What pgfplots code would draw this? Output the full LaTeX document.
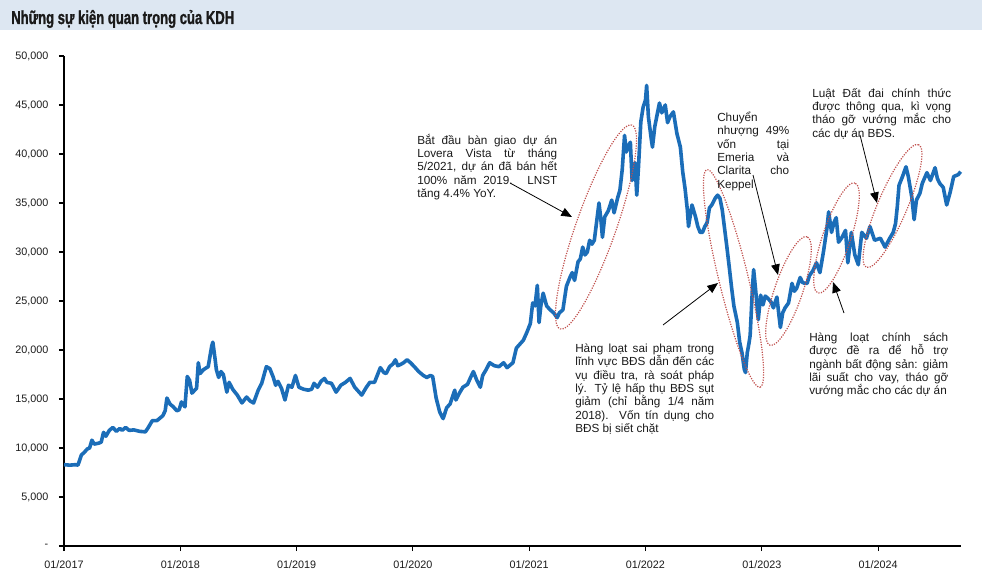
\documentclass[border=0pt]{standalone}
\usepackage{fontspec}
\setmainfont{Liberation Sans}
\newfontfamily\titlefont[FakeStretch=0.70,FakeBold=1.2]{Liberation Sans}
\usepackage{pgfplots}
\pgfplotsset{compat=1.18}
\usetikzlibrary{arrows.meta}
\definecolor{kdh}{HTML}{1B6DB8}
\definecolor{band}{HTML}{DDE7F2}
\definecolor{ell}{HTML}{C0504D}
\definecolor{txt}{HTML}{1A1A1A}
\newcommand{\annfont}{\fontsize{8.8}{10}\selectfont\color{txt}}
\newcommand{\jl}[2]{\makebox[#1][s]{#2}\\}
\begin{document}
\begin{tikzpicture}
\path[use as bounding box] (0,0) rectangle (736.5pt,432pt);
\fill[band] (0,409.5pt) rectangle (736.5pt,432pt);
\begin{axis}[
  at={(48pt,22.5pt)}, anchor=south west,
  scale only axis, width=672.75pt, height=367.5pt,
  xmin=0, xmax=7.713, ymin=0, ymax=50000,
  axis x line*=bottom, axis y line*=left,
  axis line style={black, line width=0.9pt},
  tick align=outside, major tick length=3.75pt,
  tick style={black, line width=0.8pt},
  scaled y ticks=false,
  xtick={0,1,2,3,4,5,6,7},
  xticklabels={01/2017,01/2018,01/2019,01/2020,01/2021,01/2022,01/2023,01/2024},
  ytick={0,5000,10000,15000,20000,25000,30000,35000,40000,45000,50000},
  yticklabels={-,{5,000},{10,000},{15,000},{20,000},{25,000},{30,000},{35,000},{40,000},{45,000},{50,000}},
  ticklabel style={font=\fontsize{8.1}{9}\selectfont, text=txt},
  yticklabel style={xshift=-4.5pt},
  xticklabel style={yshift=-3.75pt},
  clip=false,
]
\addplot[kdh, line width=2.7pt, line join=round] coordinates {
(0.00,8300) (0.05,8250) (0.10,8300) (0.12,8250) (0.15,9300) (0.17,9500) (0.20,9900) (0.22,10000)
(0.24,10800) (0.26,10400) (0.30,10500) (0.32,10600) (0.34,11600) (0.36,11200) (0.39,11800) (0.42,12100)
(0.45,11700) (0.48,12000) (0.50,11800) (0.53,12100) (0.56,11800) (0.60,11850) (0.65,11700) (0.70,11650)
(0.72,12000) (0.76,12800) (0.80,12800) (0.85,13300) (0.87,13800) (0.885,15100) (0.91,14500) (0.94,14200)
(0.97,13800) (0.99,13900) (1.01,14700) (1.04,14200) (1.06,17300) (1.08,16900) (1.10,15600) (1.14,16100)
(1.155,18700) (1.17,17600) (1.20,18000) (1.24,18300) (1.27,20400) (1.28,20800) (1.30,19000) (1.31,18000)
(1.33,17200) (1.35,17800) (1.37,17500) (1.40,15700) (1.42,16700) (1.45,16000) (1.49,15400) (1.53,14600)
(1.57,15200) (1.60,14800) (1.63,14600) (1.67,15900) (1.70,16600) (1.74,18300) (1.77,18100) (1.80,17200)
(1.82,16400) (1.84,16800) (1.87,16100) (1.90,14900) (1.93,16400) (1.96,16200) (1.99,17400) (2.02,16200)
(2.06,16000) (2.10,15900) (2.13,16000) (2.15,16600) (2.18,16200) (2.21,16800) (2.24,17100) (2.26,16700)
(2.30,16600) (2.34,15700) (2.38,16400) (2.42,16700) (2.46,17100) (2.50,16200) (2.53,15800) (2.56,15400)
(2.60,16200) (2.63,16700) (2.67,16700) (2.70,17600) (2.72,18200) (2.75,17700) (2.77,17600) (2.80,18300)
(2.83,18600) (2.85,19000) (2.87,18400) (2.89,18500) (2.92,18700) (2.95,19000) (2.98,18700) (3.02,18200)
(3.05,17800) (3.09,17400) (3.12,17200) (3.15,17400) (3.17,17300) (3.20,15100) (3.23,13700) (3.25,13200)
(3.26,13000) (3.29,14100) (3.32,14500) (3.36,15900) (3.37,14900) (3.40,15600) (3.43,16200) (3.47,16500)
(3.50,17300) (3.52,17800) (3.55,16900) (3.58,16200) (3.60,17400) (3.63,18000) (3.66,18700) (3.70,18400)
(3.74,18300) (3.78,18700) (3.81,18200) (3.84,18500) (3.86,18700) (3.89,20200) (3.92,20600) (3.95,21000)
(3.98,21800) (4.01,22700) (4.03,24800) (4.05,24500) (4.07,26600) (4.085,22800) (4.10,24500) (4.12,25800)
(4.15,24500) (4.18,24100) (4.21,23800) (4.24,23300) (4.26,23800) (4.29,24100) (4.32,26500) (4.35,27400)
(4.37,27900) (4.39,27100) (4.42,29000) (4.44,29300) (4.46,30500) (4.48,29700) (4.50,30000) (4.52,31200)
(4.54,30800) (4.56,31200) (4.575,32600) (4.60,35000) (4.615,33500) (4.63,31500) (4.65,33600) (4.68,34200)
(4.71,35300) (4.73,34000) (4.76,35500) (4.78,36300) (4.80,38400) (4.82,41900) (4.835,40200) (4.85,40800)
(4.87,41200) (4.885,37300) (4.91,39100) (4.925,35800) (4.94,38700) (4.96,43300) (4.98,44800) (5.00,45500)
(5.01,47000) (5.025,43800) (5.05,41500) (5.06,40700) (5.08,42800) (5.10,44000) (5.12,45200) (5.14,44200)
(5.17,45000) (5.19,43200) (5.21,43800) (5.24,44300) (5.27,42100) (5.30,40700) (5.32,38200) (5.34,36500)
(5.36,34300) (5.37,32600) (5.40,34800) (5.43,33600) (5.45,32600) (5.47,32000) (5.49,32000) (5.51,32600)
(5.53,33000) (5.55,34500) (5.57,34800) (5.60,35500) (5.62,35800) (5.64,35500) (5.66,34300) (5.68,32400)
(5.70,30500) (5.72,28500) (5.74,26400) (5.76,24500) (5.79,22800) (5.81,20800) (5.83,19700) (5.85,18000)
(5.86,17700) (5.875,19700) (5.89,20700) (5.90,21500) (5.92,26400) (5.93,28200) (5.945,26400) (5.97,23100)
(5.99,25600) (6.01,24600) (6.03,25500) (6.05,25300) (6.08,24900) (6.10,24300) (6.13,25400) (6.145,23800)
(6.16,22300) (6.18,23800) (6.20,24300) (6.23,24800) (6.26,26800) (6.28,26000) (6.30,26300) (6.33,27400)
(6.35,26900) (6.37,26800) (6.39,26800) (6.41,27600) (6.44,28100) (6.47,28900) (6.50,27900) (6.53,30000)
(6.56,32400) (6.575,34100) (6.60,32000) (6.62,33000) (6.64,33500) (6.66,31000) (6.69,31500) (6.72,32200)
(6.74,28900) (6.77,32000) (6.80,29700) (6.83,28700) (6.86,32000) (6.90,31400) (6.93,32600) (6.97,31200)
(7.02,31400) (7.06,30500) (7.10,31400) (7.13,32000) (7.15,32900) (7.165,34600) (7.18,36800) (7.21,37700)
(7.24,38700) (7.26,37700) (7.29,35600) (7.31,33300) (7.33,35300) (7.36,36000) (7.38,37000) (7.42,38100)
(7.45,37300) (7.49,38600) (7.51,37500) (7.53,37000) (7.56,36600) (7.59,34800) (7.62,36100) (7.65,37700)
(7.69,37900) (7.71,38200)
};
\end{axis}
\begin{scope}[x=0.75pt,y=-0.75pt,yshift=432pt]
% title
\node[anchor=base west, inner sep=0, text=txt] at (11,24) {\titlefont\bfseries\fontsize{14}{16}\selectfont Những sự kiện quan trọng của KDH};
% ellipses
\begin{scope}[ell, densely dotted, line width=0.9pt]
\draw[rotate around={70.6:(596,227)}] (596,227) ellipse [x radius=81pt, y radius=15pt];
\draw[rotate around={-76.3:(733.5,278.5)}] (733.5,278.5) ellipse [x radius=84pt, y radius=11pt];
\draw[rotate around={71.1:(788.5,291)}] (788.5,291) ellipse [x radius=43pt, y radius=10.5pt];
\draw[rotate around={71.4:(836.5,238)}] (836.5,238) ellipse [x radius=43.5pt, y radius=10.5pt];
\draw[rotate around={66.9:(892.5,206)}] (892.5,206) ellipse [x radius=50pt, y radius=11pt];
\end{scope}
% arrows
\begin{scope}[black, line width=0.6pt, -{Triangle[length=8pt,width=6.5pt]}]
\draw (510,183) -- (572,217);
\draw (663,325) -- (718,283);
\draw (844,313) -- (833,282);
\draw (753,175) -- (778,275);
\draw (860,135) -- (877,203);
\end{scope}
% texts
\node[anchor=base west, inner sep=0] at (417,134) {\parbox[t]{105pt}{\annfont
\jl{105pt}{Bắt đầu bàn giao dự án}
\jl{105pt}{Lovera Vista từ tháng}
\jl{105pt}{5/2021, dự án đã bán hết}
\jl{105pt}{100\% năm 2019. LNST}
tăng 4.4\% YoY.}};
\node[anchor=base west, inner sep=0] at (575,344) {\parbox[t]{104.25pt}{\annfont
\jl{104.25pt}{Hàng loạt sai phạm trong}
\jl{104.25pt}{lĩnh vực BĐS dẫn đến các}
\jl{104.25pt}{vụ điều tra, rà soát pháp}
\jl{104.25pt}{lý. Tỷ lệ hấp thụ BĐS sụt}
\jl{104.25pt}{giảm (chỉ bằng 1/4 năm}
\jl{104.25pt}{2018). Vốn tín dụng cho}
BĐS bị siết chặt}};
\node[anchor=base west, inner sep=0] at (809,333) {\parbox[t]{104.25pt}{\annfont
\jl{104.25pt}{Hàng loạt chính sách}
\jl{104.25pt}{được đề ra để hỗ trợ}
\jl{104.25pt}{ngành bất động sản: giảm}
\jl{104.25pt}{lãi suất cho vay, tháo gỡ}
vướng mắc cho các dự án}};
\node[anchor=base west, inner sep=0] at (717,112) {\parbox[t]{54pt}{\annfont
Chuyển\\
\jl{54pt}{nhượng 49\%}
\jl{54pt}{vốn tại}
\jl{54pt}{Emeria và}
\jl{54pt}{Clarita cho}
Keppel}};
\node[anchor=base west, inner sep=0] at (812,88) {\parbox[t]{104.25pt}{\annfont
\jl{104.25pt}{Luật Đất đai chính thức}
\jl{104.25pt}{được thông qua, kì vọng}
\jl{104.25pt}{tháo gỡ vướng mắc cho}
các dự án BĐS.}};
\end{scope}
\end{tikzpicture}
\end{document}
